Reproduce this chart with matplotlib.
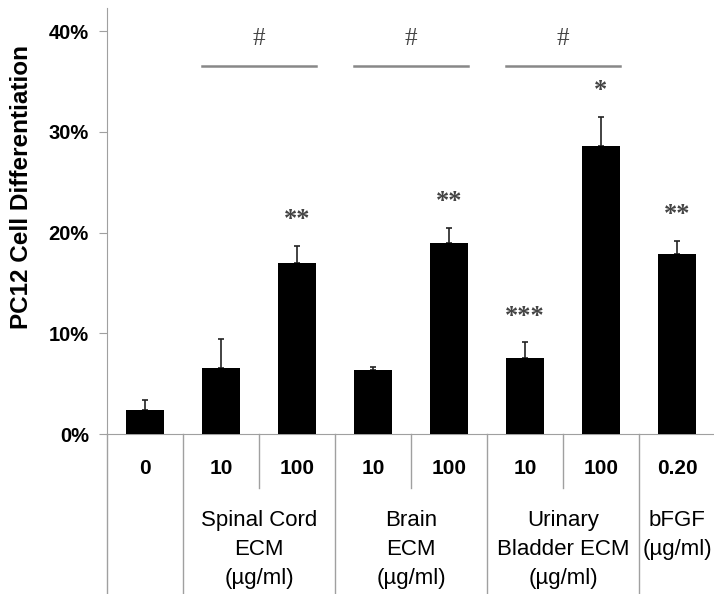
import matplotlib.pyplot as plt
import numpy as np

# PC12 differentiation by treatment
doses = ["0", "10", "100", "10", "100", "10", "100", "0.20"]
means = [2.4, 6.6, 17.0, 6.4, 19.0, 7.5, 28.6, 17.9]
errs = [1.0, 2.8, 1.7, 0.3, 1.5, 1.6, 2.9, 1.3]
stars = ["", "", "**", "", "**", "***", "*", "**"]
groups = ["Spinal Cord\nECM\n(µg/ml)", "Brain\nECM\n(µg/ml)",
          "Urinary\nBladder ECM\n(µg/ml)", "bFGF\n(µg/ml)"]
group_pos = [1.5, 3.5, 5.5, 7]
pairs = [(1, 2), (3, 4), (5, 6)]

plt.rcParams['font.family'] = ['Liberation Sans', 'DejaVu Sans']

fig = plt.figure(figsize=(7.14, 5.94), dpi=100)
ax = fig.add_axes([107/714, 160/594, 607/714, 426/594])

x = np.arange(len(means))
w = 0.5
ax.bar(x, means, width=w, color="black", zorder=3)
ax.errorbar(x, means, yerr=[np.zeros(len(errs)), errs], fmt="none",
            ecolor="#222222", elinewidth=1.2, capsize=2, capthick=1.2, zorder=2)

for xi, m, e, s in zip(x, means, errs, stars):
    if s:
        ax.text(xi, m + e + 2.6, s, ha="center", va="center", fontsize=19,
                family="Liberation Serif", fontweight="bold", color="#444444")

for a, b in pairs:
    ax.plot([a - w/2, b + w/2], [36.5, 36.5], color="#888888", lw=1.8)
    ax.text((a + b) / 2, 39.2, "#", ha="center", va="center", fontsize=18,
            family="Liberation Serif", color="#444444")

ax.set_xlim(-0.5, (714 - 107) / 76 - 0.5)
ax.set_ylim(0, 42.3)
ax.set_yticks([0, 10, 20, 30, 40])
ax.set_yticklabels(["0%", "10%", "20%", "30%", "40%"], fontweight="bold", fontsize=14.5)
ax.set_ylabel("PC12 Cell Differentiation", fontweight="bold", fontsize=17.5)
ax.yaxis.set_label_coords(-0.122, 0.58)

ax.set_xticks(x)
ax.set_xticklabels(doses, fontweight="bold", fontsize=15)
ax.tick_params(axis="x", length=0, pad=18)
ax.tick_params(axis="y", length=6, color="#a0a0a0", direction="out", pad=7)

for side in ["top", "right"]:
    ax.spines[side].set_visible(False)
ax.spines["left"].set_color("#a0a0a0")
ax.spines["bottom"].set_color("#a0a0a0")

# category dividers below the axis
tr = ax.get_xaxis_transform()
for d in [-0.5, 0.5, 2.5, 4.5, 6.5]:
    ax.plot([d, d], [0, -160/426], color="#a0a0a0", lw=1, transform=tr, clip_on=False)
for d in [1.5, 3.5, 5.5]:
    ax.plot([d, d], [0, -54/426], color="#a0a0a0", lw=1, transform=tr, clip_on=False)

for gp, g in zip(group_pos, groups):
    ax.text(gp, -76/426, g, ha="center", va="top", fontsize=16,
            linespacing=1.5, transform=tr)

fig.savefig("out.png", dpi=100)
